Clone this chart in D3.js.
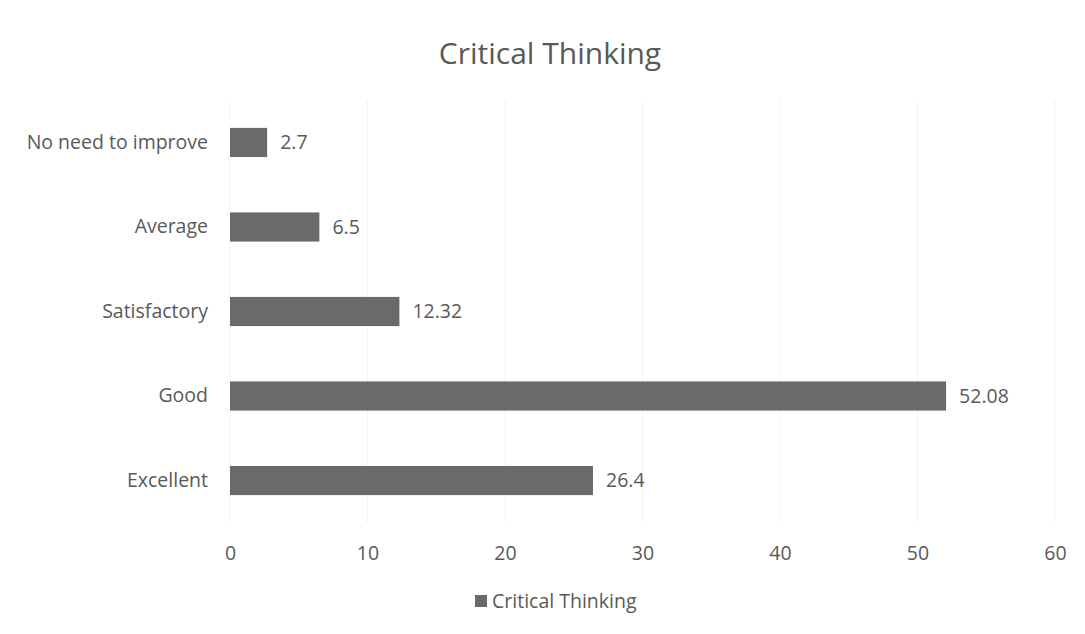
<!DOCTYPE html>
<html><head><meta charset="utf-8">
<script src="https://cdn.jsdelivr.net/npm/d3@7"></script>
<style>body{margin:0;background:#fff}svg{display:block}text{font-family:"Open Sans",sans-serif;fill:#595959}</style>
</head><body>
<script>
const categories = ["No need to improve","Average","Satisfactory","Good","Excellent"];
const values = [2.7, 6.5, 12.32, 52.08, 26.4];
const valueLabels = ["2.7","6.5","12.32","52.08","26.4"];
const tickValues = [0,10,20,30,40,50,60];
const seriesName = "Critical Thinking";
const title = "Critical Thinking";

const W = 1085, H = 634;
const FS = 19.5;
const svg = d3.select("body").append("svg").attr("width", W).attr("height", H);
const x = d3.scaleLinear().domain([0,60]).range([230,1055]);
const y = d3.scaleBand().domain(categories).range([100,523]).paddingInner(0.655).paddingOuter(0.33);

svg.append("g").selectAll("line").data(tickValues).join("line")
  .attr("x1", d=>x(d)).attr("x2", d=>x(d)).attr("y1",100).attr("y2",523)
  .attr("stroke","#f3f3f3").attr("stroke-width",1);

svg.append("text").attr("x",550).attr("y",64).attr("text-anchor","middle")
  .attr("font-size",30).text(title);

svg.append("g").selectAll("rect").data(values).join("rect")
  .attr("x", x(0)).attr("y",(d,i)=>y(categories[i]))
  .attr("width", d=>x(d)-x(0)).attr("height", y.bandwidth())
  .attr("fill","#6a6a6a");

svg.append("g").selectAll("text").data(values).join("text")
  .attr("x", d=>x(d)+13).attr("y",(d,i)=>y(categories[i])+y.bandwidth()/2)
  .attr("dy","0.35em").attr("font-size",FS).text((d,i)=>valueLabels[i]);

const ya = d3.axisLeft(y).tickSize(0).tickPadding(22);
const gy = svg.append("g").attr("transform",`translate(${x(0)},0)`).call(ya);
gy.select(".domain").remove();
gy.selectAll("text").attr("font-size",FS).style("font-family","'Open Sans',sans-serif").attr("fill","#595959");

const xa = d3.axisBottom(x).tickValues(tickValues).tickSize(0).tickPadding(23);
const gx = svg.append("g").attr("transform","translate(0,523)").call(xa);
gx.select(".domain").remove();
gx.selectAll("text").attr("font-size",FS).style("font-family","'Open Sans',sans-serif").attr("fill","#767676");

const lg = svg.append("g");
lg.append("rect").attr("x",475).attr("y",595).attr("width",12).attr("height",12).attr("fill","#6a6a6a");
lg.append("text").attr("x",492).attr("y",601).attr("dy","0.35em").attr("font-size",19.5).text(seriesName);
</script>
</body></html>
